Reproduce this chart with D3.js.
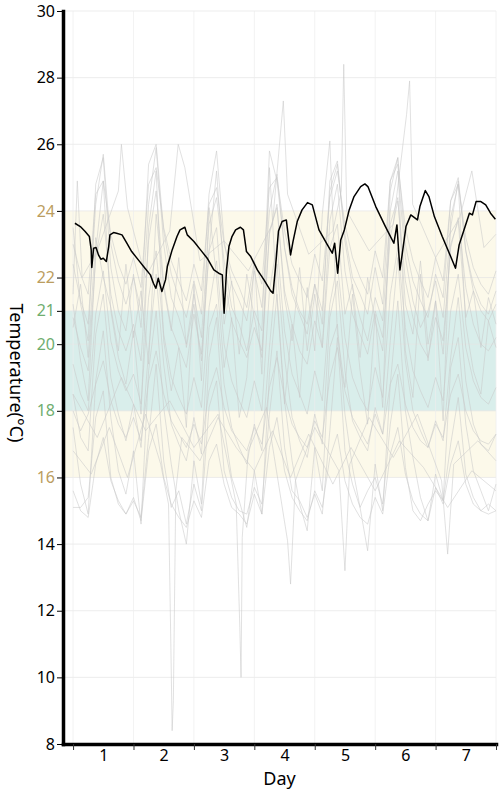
<!DOCTYPE html>
<html lang="en">
  <head>
    <meta charset="UTF-8" />
    <title>Room Temperature</title>
    <style>
      body { margin: 0; background: #fff; }
      svg { display: block; }
    </style>
  </head>
  <body>
    <script src="https://cdn.jsdelivr.net/npm/d3@7"></script>
    <script>

      // axis ticks
      var yTicks = [8, 10, 12, 14, 16, 18, 20, 21, 22, 24, 26, 28, 30];
      var tanTicks = [16, 22, 24];
      var greenTicks = [18, 20, 21];
      var dayTicks = [0, 1, 2, 3, 4, 5, 6, 7];
      var dayMids = [0.5, 1.5, 2.5, 3.5, 4.5, 5.5, 6.5];
      var dayLabels = ["1", "2", "3", "4", "5", "6", "7"];

      // comfort bands (°C)
      var bandNames = ["acceptable", "comfort"];
      var bandBottom = [16, 18];
      var bandTop = [24, 21];

      // highlighted room, day offset / temperature
      var roomDay = [0.03, 0.12, 0.20, 0.27, 0.30, 0.31, 0.34, 0.38, 0.42, 0.46, 0.50, 0.55, 0.59, 0.61, 0.67, 0.72, 0.81, 0.89, 0.97,
                     1.08, 1.19, 1.28, 1.33, 1.37, 1.41, 1.47, 1.53, 1.56, 1.64, 1.72, 1.77, 1.85, 1.89,
                     2.00, 2.11, 2.22, 2.33, 2.41, 2.47, 2.50, 2.54, 2.58, 2.63, 2.69, 2.77, 2.82, 2.87, 2.94,
                     3.05, 3.16, 3.27, 3.31, 3.35, 3.40, 3.46, 3.53, 3.57, 3.60, 3.64, 3.71, 3.79, 3.88, 3.96,
                     4.07, 4.21, 4.29, 4.33, 4.38, 4.43, 4.49, 4.57, 4.65, 4.76, 4.83, 4.88,
                     5.01, 5.17, 5.31, 5.36, 5.41, 5.45, 5.51, 5.59, 5.70, 5.74, 5.83, 5.89, 5.98,
                     6.11, 6.25, 6.33, 6.39, 6.47, 6.56, 6.61, 6.67, 6.75, 6.83, 6.91, 6.99];
      var roomTemp = [23.63, 23.53, 23.38, 23.23, 22.83, 22.30, 22.88, 22.90, 22.68, 22.55, 22.58, 22.48, 22.93, 23.28, 23.35, 23.33, 23.28, 23.03, 22.78,
                      22.53, 22.28, 22.08, 21.83, 21.68, 21.98, 21.58, 21.93, 22.33, 22.83, 23.23, 23.43, 23.51, 23.28,
                      23.08, 22.83, 22.58, 22.23, 22.13, 22.08, 20.93, 22.23, 22.93, 23.23, 23.43, 23.51, 23.43, 22.78, 22.63,
                      22.23, 21.93, 21.60, 21.53, 22.30, 23.40, 23.68, 23.73, 23.13, 22.68, 23.08, 23.68, 24.03, 24.25, 24.18,
                      23.43, 22.98, 22.73, 23.03, 22.13, 23.13, 23.43, 24.03, 24.43, 24.73, 24.81, 24.73,
                      24.13, 23.53, 23.03, 23.58, 22.23, 22.73, 23.53, 23.88, 23.73, 24.13, 24.61, 24.43, 23.83,
                      23.23, 22.63, 22.28, 22.98, 23.43, 23.93, 23.88, 24.28, 24.28, 24.18, 23.93, 23.75];

      // other rooms, sampled every 3 hours
      var otherHours = [0, 3, 6, 9, 12, 15, 18, 21, 24, 27, 30, 33, 36, 39, 42, 45, 48, 51, 54, 57, 60, 63, 66, 69,
                        72, 75, 78, 81, 84, 87, 90, 93, 96, 99, 102, 105, 108, 111, 114, 117, 120, 123, 126, 129,
                        132, 135, 138, 141, 144, 147, 150, 153, 156, 159, 162, 165, 168];
      var roomA = [21.2,19.5,18.3,22.8,24.9,21.0,19.6,18.8, 20.4,17.9,23.5,25.2,20.1,18.6,19.9,17.5, 21.8,18.9,24.1,22.0,19.3,20.8,17.8,19.0, 22.5,19.1,25.3,21.4,18.2,20.6,18.4,21.7, 19.8,23.9,26.1,20.3,18.7,21.5,19.2,17.6, 20.9,18.1,24.6,25.6,19.8,18.4,22.1,19.5, 21.3,17.7,23.8,24.8,20.6,19.2,18.5,20.7, 19.9];
      var roomB = [15.1,15.1,15.4,17.8,18.6,16.0,15.2,14.9, 15.3,14.8,17.2,19.4,16.5,15.1,15.6,14.6, 15.8,15.0,18.1,18.9,16.2,15.4,15.0,14.9, 15.7,15.2,17.9,19.8,16.9,15.6,15.3,14.8, 15.5,14.9,17.4,20.2,16.8,15.8,15.1,15.6, 16.0,15.2,17.6,19.1,16.3,15.0,14.7,15.2, 15.6,15.3,17.0,18.4,16.1,15.4,15.0,15.2, 15.0];
      var roomC = [23.5,21.2,20.1,24.8,25.6,22.3,21.0,20.4, 22.1,20.5,24.2,25.9,23.0,21.4,20.8,20.0, 21.5,20.2,23.6,24.4,22.5,21.1,20.6,19.8, 21.0,20.4,25.8,24.9,22.9,21.5,20.9,20.3, 21.8,20.6,24.9,25.5,23.1,21.7,20.8,20.1, 21.4,20.7,24.0,25.2,22.6,21.3,20.5,21.0, 21.9,20.8,23.5,24.9,22.8,21.6,21.0,20.7, 21.2];
      var roomD = [18.5,17.2,16.8,20.3,21.5,19.0,17.9,17.1, 18.2,16.9,19.8,22.1,19.4,17.6,17.0,16.5, 17.8,16.7,20.5,21.2,18.8,17.5,16.9,16.4, 17.6,16.8,19.9,22.4,19.6,17.8,17.1,16.6, 17.9,17.0,20.8,21.9,19.2,17.7,17.2,16.8, 18.1,17.3,20.1,22.6,19.5,18.0,17.4,16.9, 17.7,17.1,19.6,21.4,18.9,17.6,17.0,16.8, 17.3];
      var roomE = [20.8,19.9,19.2,22.6,23.9,21.5,20.4,19.8, 20.6,19.5,23.1,24.6,21.8,20.5,19.9,19.3, 20.9,19.7,22.8,25.2,22.0,20.7,20.1,19.6, 20.5,19.8,23.4,24.1,21.6,20.6,19.8,19.4, 20.7,19.9,23.7,24.8,22.2,20.9,20.3,19.7, 21.0,20.2,23.2,24.3,21.9,20.8,20.0,19.6, 20.8,20.1,22.9,23.8,21.7,20.6,20.0,19.8, 20.2];
      var roomF = [17.5,15.8,14.9,18.9,20.4,17.8,16.2,15.5, 16.8,14.6,19.2,21.0,18.1,16.4,15.0,14.0, 16.5,15.2,19.6,20.8,17.5,16.0,15.3,14.5, 16.2,14.9,19.1,21.5,18.3,16.5,15.2,14.4, 16.9,15.6,19.9,20.6,17.9,16.3,15.1,13.8, 16.4,15.0,18.8,21.3,18.0,16.6,15.4,14.7, 16.1,15.3,19.3,20.2,17.6,16.2,15.6,15.0, 15.8];
      var roomG = [22.4,21.3,20.6,24.2,25.7,23.0,21.9,21.2, 22.0,21.0,25.4,26.0,23.4,22.1,21.4,20.8, 21.9,20.9,24.5,25.8,23.1,21.8,21.3,20.7, 22.2,21.1,24.0,25.1,22.9,21.7,21.0,20.6, 21.8,21.0,24.6,25.4,23.3,22.0,21.5,20.9, 22.3,21.2,24.9,25.6,23.0,21.9,21.3,20.8, 22.1,21.4,24.3,25.0,22.8,21.8,21.2,20.9, 21.6];
      var roomH = [19.4,18.5,18.0,20.9,22.2,20.1,19.2,18.6, 19.1,18.2,21.4,22.8,20.3,19.0,18.4,17.9, 19.0,18.1,21.1,22.5,20.0,18.9,18.3,17.8, 18.9,18.0,21.6,23.0,20.4,19.1,18.5,17.9, 19.2,18.3,21.2,22.4,20.2,19.0,18.4,18.0, 19.3,18.4,21.5,22.9,20.5,19.2,18.6,18.1, 19.0,18.3,21.0,22.1,19.9,18.9,18.4,18.2, 18.7];
      var roomI = [23.0,22.1,21.5,24.5,24.9,23.3,22.4,21.8, 22.6,21.7,24.8,25.3,23.5,22.5,21.9,21.3, 22.4,21.6,24.2,24.7,23.0,22.2,21.7,21.1, 22.5,21.8,24.7,25.0,23.4,22.4,21.9,21.4, 22.7,21.9,24.4,25.2,23.6,22.6,22.0,21.5, 22.8,22.0,24.9,25.4,23.5,22.5,21.9,21.4, 22.6,21.9,24.3,24.8,23.2,22.3,21.8,21.5, 22.2];
      var roomJ = [18.0,17.4,17.9,18.8,19.5,18.3,17.6,17.2, 17.8,17.1,18.9,19.8,18.5,17.7,17.3,16.9, 17.6,17.0,18.6,19.3,18.1,17.4,17.1,16.8, 17.5,17.0,18.7,19.6,18.4,17.6,17.2,16.9, 17.7,17.2,19.0,19.9,18.6,17.8,17.4,17.0, 17.9,17.3,18.8,19.4,18.2,17.5,17.1,16.9, 17.6,17.2,18.5,19.1,18.0,17.4,17.1,17.0, 17.3];
      var roomK = [20.5,21.8,19.6,23.2,22.0,21.1,19.8,22.4, 20.2,21.6,19.4,23.9,21.7,20.4,22.6,19.9, 21.2,19.5,22.8,23.5,20.6,21.9,19.7,22.1, 20.8,19.6,23.3,24.2,21.4,20.1,22.3,19.8, 21.5,19.9,22.9,23.6,20.9,21.8,19.6,22.0, 20.7,19.8,23.6,24.4,21.2,20.3,22.5,20.0, 21.3,19.7,23.0,23.7,20.8,21.6,19.9,21.4, 20.6];
      var roomL = [15.6,15.0,14.8,16.4,17.2,15.9,15.3,14.9, 15.4,14.7,16.8,17.6,16.0,15.2,14.8,14.5, 15.3,14.8,16.5,17.0,15.8,15.1,14.9,14.6, 15.5,14.9,16.9,17.8,16.2,15.4,15.0,14.7, 15.6,15.1,16.6,17.3,15.9,15.2,14.8,14.6, 15.4,14.9,16.7,17.5,16.1,15.3,14.9,14.7, 15.7,15.2,16.4,17.1,15.8,15.2,15.0,14.9, 15.0];

      // rooms with sharp excursions, [day, temperature]
      var roomDrop1 = [[0,16.8],[0.3,16.1],[0.6,17.5],[0.9,16.0],[1.2,17.9],[1.45,16.4],[1.58,15.2],[1.62,10.8],[1.64,8.4],[1.66,9.3],[1.7,15.6],[1.8,17.2],[2.1,16.5],[2.4,17.8],[2.7,16.9],[3.0,16.2],[3.3,17.4],[3.6,16.0],[3.9,17.3],[4.3,15.8],[4.6,16.9],[5.0,15.6],[5.4,17.1],[5.8,16.3],[6.2,15.1],[6.6,16.2],[7.0,15.6]];
      var roomDrop2 = [[0,18.5],[0.4,17.2],[0.8,19.0],[1.2,17.4],[1.6,18.3],[2.0,16.9],[2.4,17.9],[2.7,15.2],[2.76,11.5],[2.78,10.0],[2.8,14.2],[2.9,16.8],[3.2,18.1],[3.55,14.1],[3.6,12.8],[3.68,15.9],[4.0,17.5],[4.4,16.2],[4.5,13.2],[4.58,16.4],[4.9,17.8],[5.3,16.6],[5.7,17.9],[6.1,15.9],[6.2,13.7],[6.3,16.4],[6.7,17.1],[7.0,16.5]];
      var roomPeak = [[0,21.5],[0.07,24.9],[0.15,22.0],[0.4,22.8],[0.75,24.6],[0.8,26.0],[0.9,24.1],[1.2,22.0],[1.6,23.4],[1.74,26.0],[1.85,25.3],[2.1,22.5],[2.5,23.1],[2.9,22.2],[3.3,23.6],[3.48,27.3],[3.55,24.5],[3.9,22.7],[4.3,23.4],[4.44,24.6],[4.48,28.4],[4.53,24.0],[4.9,22.8],[5.3,23.6],[5.52,26.9],[5.57,27.9],[5.62,24.2],[6.0,22.6],[6.4,23.8],[6.6,25.2],[6.8,22.9],[7.0,23.3]];

      var gridRooms = [roomA, roomB, roomC, roomD, roomE, roomF, roomG, roomH, roomI, roomJ, roomK, roomL];
      var pairRooms = [roomDrop1, roomDrop2, roomPeak];

      var w = 500, h = 790;
      var font = "'Noto Sans', 'Open Sans', sans-serif";

      var svg = d3.select("body").append("svg")
                  .attr("width", w)
                  .attr("height", h);

      var xScale = d3.scaleLinear().domain([-1/6, 7]).range([63, 496]);
      var yScale = d3.scaleLinear().domain([8, 30]).range([744, 11]);
      var x0 = xScale.range()[0], x1 = xScale.range()[1];

      var bandFill = ["#fcf9ea", "#d9eeeb"];

      // bands
      svg.append("g").selectAll("rect")
         .data(bandNames)
         .enter()
         .append("rect")
         .attr("x", x0)
         .attr("width", x1 - x0)
         .attr("y", function(d, i) { return yScale(bandTop[i]); })
         .attr("height", function(d, i) { return yScale(bandBottom[i]) - yScale(bandTop[i]); })
         .attr("fill", function(d, i) { return bandFill[i]; });

      // grid
      svg.append("g").selectAll("line")
         .data(yTicks)
         .enter()
         .append("line")
         .attr("x1", x0).attr("x2", x1)
         .attr("y1", function(d) { return yScale(d); })
         .attr("y2", function(d) { return yScale(d); })
         .attr("stroke", "#e6e6e6")
         .attr("stroke-opacity", 0.7);
      svg.append("g").selectAll("line")
         .data(dayTicks)
         .enter()
         .append("line")
         .attr("x1", function(d) { return xScale(d); })
         .attr("x2", function(d) { return xScale(d); })
         .attr("y1", yScale(30)).attr("y2", yScale(8))
         .attr("stroke", "#ececec")
         .attr("stroke-opacity", 0.7);

      // other rooms
      var gridLine = d3.line()
                       .x(function(d, i) { return xScale(otherHours[i] / 24); })
                       .y(function(d) { return yScale(d); });
      var pairLine = d3.line()
                       .x(function(d) { return xScale(d[0]); })
                       .y(function(d) { return yScale(d[1]); });

      svg.append("g").selectAll("path")
         .data(gridRooms)
         .enter()
         .append("path")
         .attr("d", gridLine)
         .attr("fill", "none")
         .attr("stroke", "#c9c9c9")
         .attr("stroke-opacity", 0.55)
         .attr("stroke-width", 1);
      svg.append("g").selectAll("path")
         .data(pairRooms)
         .enter()
         .append("path")
         .attr("d", pairLine)
         .attr("fill", "none")
         .attr("stroke", "#c9c9c9")
         .attr("stroke-opacity", 0.55)
         .attr("stroke-width", 1);

      // highlighted room
      var roomLine = d3.line()
                       .x(function(d, i) { return xScale(roomDay[i]); })
                       .y(function(d) { return yScale(d); });
      svg.append("path")
         .datum(roomTemp)
         .attr("d", roomLine)
         .attr("fill", "none")
         .attr("stroke", "#000")
         .attr("stroke-width", 1.5)
         .attr("stroke-linejoin", "round");

      // y axis
      var yAxis = d3.axisLeft(yScale)
                    .tickValues(yTicks)
                    .tickSize(6)
                    .tickSizeOuter(0)
                    .tickPadding(2);
      var gy = svg.append("g")
                  .attr("transform", "translate(" + x0 + ",0)")
                  .call(yAxis)
                  .attr("font-family", font)
                  .attr("font-size", 16);
      gy.select(".domain").attr("stroke-width", 3.5).attr("stroke-linecap", "square");
      gy.selectAll(".tick text")
        .attr("fill", function(d) {
          if (tanTicks.indexOf(d) >= 0) return "#bb9d60";
          if (greenTicks.indexOf(d) >= 0) return "#6fae6f";
          return "#000";
        });

      // x axis
      var xAxis = d3.axisBottom(xScale)
                    .tickValues(dayTicks)
                    .tickSize(6)
                    .tickSizeOuter(0)
                    .tickFormat("");
      var gx = svg.append("g")
                  .attr("transform", "translate(0," + yScale(8) + ")")
                  .call(xAxis);
      gx.select(".domain").attr("stroke-width", 3.5).attr("stroke-linecap", "square");
      gx.selectAll(".tick line").attr("stroke", "#333");

      var labelAxis = d3.axisBottom(xScale)
                        .tickValues(dayMids)
                        .tickSize(0)
                        .tickPadding(6)
                        .tickFormat(function(d, i) { return dayLabels[i]; });
      var gl = svg.append("g")
                  .attr("transform", "translate(0," + yScale(8) + ")")
                  .call(labelAxis)
                  .attr("font-family", font)
                  .attr("font-size", 16);
      gl.select(".domain").remove();

      // axis titles
      svg.append("text")
         .attr("text-anchor", "middle")
         .attr("font-family", font)
         .attr("font-size", 18)
         .attr("x", (x0 + x1) / 2)
         .attr("y", 785)
         .text("Day");
      svg.append("text")
         .attr("text-anchor", "middle")
         .attr("font-family", font)
         .attr("font-size", 18)
         .attr("transform", "translate(10,373)rotate(90)")
         .text("Temperature(°C)");

    </script>
  </body>
</html>
